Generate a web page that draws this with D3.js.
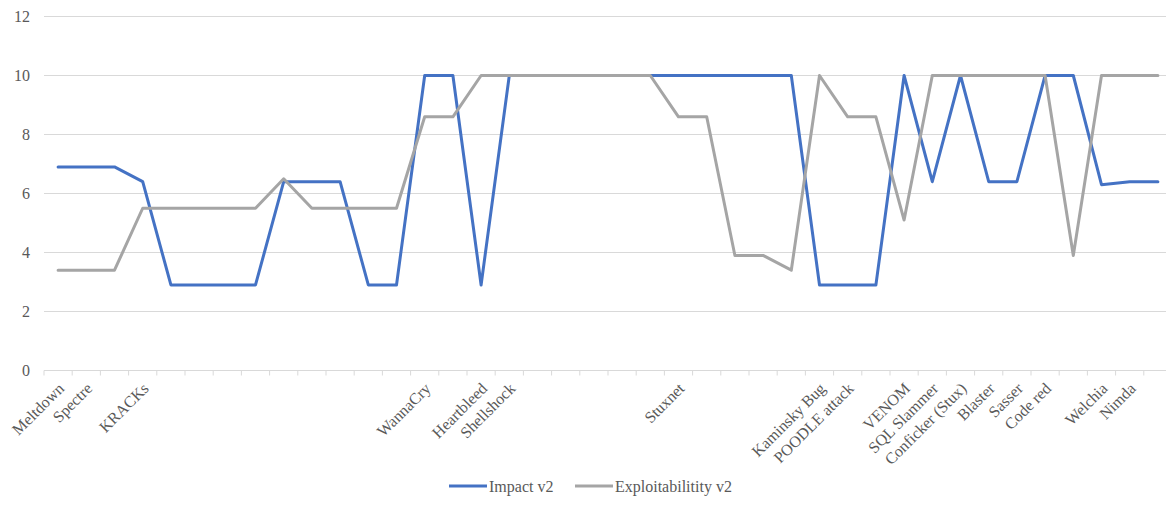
<!DOCTYPE html>
<html>
<head>
<meta charset="utf-8">
<script src="https://cdn.jsdelivr.net/npm/d3@7"></script>
<style>
  html, body { margin: 0; padding: 0; background: #fff; }
  svg { display: block; }
</style>
</head>
<body>
<svg id="chart" width="1166" height="509"></svg>
<script>
// Attack names on the category axis (blank entries are unlabeled CVEs)
const categories = [
  "Meltdown", "Spectre", "", "KRACKs", "", "", "", "", "", "",
  "", "", "", "WannaCry", "", "Heartbleed", "Shellshock", "", "", "",
  "", "", "Stuxnet", "", "", "", "", "Kaminsky Bug", "POODLE attack", "",
  "VENOM", "SQL Slammer", "Conficker (Stux)", "Blaster", "Sasser", "Code red", "", "Welchia", "Nimda", ""
];

// CVSS v2 sub-scores
const impactV2 = [
  6.9, 6.9, 6.9, 6.4, 2.9, 2.9, 2.9, 2.9, 6.4, 6.4,
  6.4, 2.9, 2.9, 10, 10, 2.9, 10, 10, 10, 10,
  10, 10, 10, 10, 10, 10, 10, 2.9, 2.9, 2.9,
  10, 6.4, 10, 6.4, 6.4, 10, 10, 6.3, 6.4, 6.4
];
const exploitabilityV2 = [
  3.4, 3.4, 3.4, 5.5, 5.5, 5.5, 5.5, 5.5, 6.5, 5.5,
  5.5, 5.5, 5.5, 8.6, 8.6, 10, 10, 10, 10, 10,
  10, 10, 8.6, 8.6, 3.9, 3.9, 3.4, 10, 8.6, 8.6,
  5.1, 10, 10, 10, 10, 10, 3.9, 10, 10, 10
];

const yTicks = [0, 2, 4, 6, 8, 10, 12];

const seriesNames = ["Impact v2", "Exploitabilitity v2"];
const seriesColors = ["#4472C4", "#A5A5A5"];

const svg = d3.select("#chart");
const font = "'Liberation Serif', 'Times New Roman', serif";
const textColor = "#595959";
const gridColor = "#D9D9D9";

const plotLeft = 44, plotRight = 1172, plotTop = 16.5, plotBottom = 370.5;
const idx = d3.range(categories.length);

const x = d3.scaleBand().domain(idx).range([plotLeft, plotRight]).padding(0);
const cx = i => x(i) + x.bandwidth() / 2;
const y = d3.scaleLinear().domain([0, 12]).range([plotBottom, plotTop]);

// Horizontal gridlines
svg.append("g")
  .selectAll("line")
  .data(yTicks.filter(t => t > 0))
  .join("line")
  .attr("x1", plotLeft).attr("x2", plotRight)
  .attr("y1", d => y(d)).attr("y2", d => y(d))
  .attr("stroke", gridColor).attr("stroke-width", 1);

// Y axis labels
const yAxis = d3.axisLeft(y).tickValues(yTicks).tickSize(0).tickPadding(14);
const gy = svg.append("g").attr("transform", `translate(${plotLeft},0)`).call(yAxis);
gy.select(".domain").remove();
gy.selectAll("text")
  .attr("font-family", font).attr("font-size", 16).attr("fill", textColor);

// Category axis: baseline, tick marks between categories, rotated labels
const gx = svg.append("g");
gx.append("line")
  .attr("x1", plotLeft).attr("x2", plotRight)
  .attr("y1", plotBottom).attr("y2", plotBottom)
  .attr("stroke", gridColor).attr("stroke-width", 1);
gx.selectAll("line.tick")
  .data(d3.range(categories.length + 1))
  .join("line")
  .attr("class", "tick")
  .attr("x1", d => plotLeft + d * x.bandwidth())
  .attr("x2", d => plotLeft + d * x.bandwidth())
  .attr("y1", plotBottom).attr("y2", plotBottom + 5)
  .attr("stroke", gridColor).attr("stroke-width", 1);
gx.selectAll("text")
  .data(idx.filter(i => categories[i] !== ""))
  .join("text")
  .attr("transform", i => `translate(${cx(i) + 7},${plotBottom + 19}) rotate(-45)`)
  .attr("text-anchor", "end")
  .attr("font-family", font).attr("font-size", 16).attr("fill", textColor)
  .text(i => categories[i]);

// Series lines
const line = d3.line().x((d, i) => cx(i)).y(d => y(d));
[impactV2, exploitabilityV2].forEach((values, k) => {
  svg.append("path")
    .datum(values)
    .attr("fill", "none")
    .attr("stroke", seriesColors[k])
    .attr("stroke-width", 3)
    .attr("stroke-linejoin", "round")
    .attr("stroke-linecap", "round")
    .attr("d", line);
});

// Legend
const legend = svg.append("g").attr("transform", "translate(0,486)");
const legendX = [449, 575];
seriesNames.forEach((name, k) => {
  legend.append("line")
    .attr("x1", legendX[k]).attr("x2", legendX[k] + 38)
    .attr("y1", 0).attr("y2", 0)
    .attr("stroke", seriesColors[k]).attr("stroke-width", 3);
  legend.append("text")
    .attr("x", legendX[k] + 40).attr("y", 0)
    .attr("dy", "0.35em")
    .attr("font-family", font).attr("font-size", 16).attr("fill", textColor)
    .text(name);
});
</script>
</body>
</html>
